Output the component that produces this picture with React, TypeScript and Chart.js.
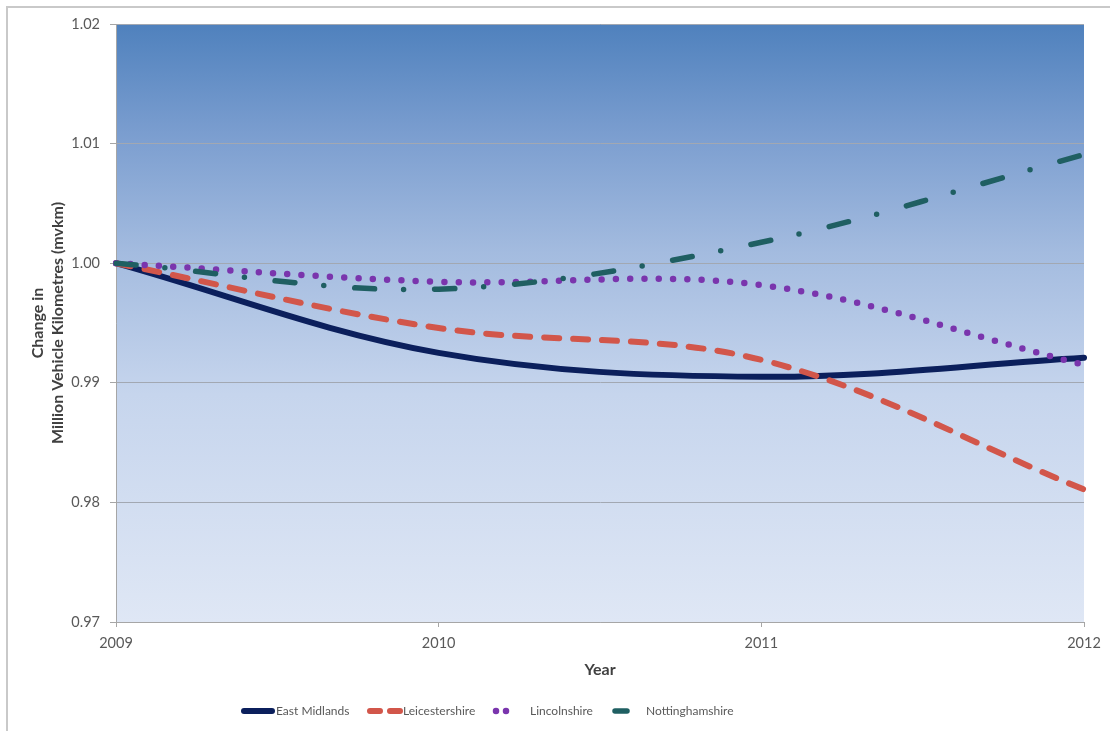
import React, { useEffect, useRef } from "react";
import { Chart, registerables } from "chart.js";

Chart.register(...registerables);

// Index of traffic volume relative to 2009
const years = ["2009", "2010", "2011", "2012"];
const eastMidlands = [1.0, 0.9925, 0.9905, 0.9921];
const leicestershire = [1.0, 0.99458, 0.99192, 0.98108];
const lincolnshire = [1.0, 0.99845, 0.99817, 0.9915];
const nottinghamshire = [1.0, 0.99783, 1.00175, 1.00908];
const seriesNames = ["East Midlands", "Leicestershire", "Lincolnshire", "Nottinghamshire"];

const yMin = 0.97;
const yMax = 1.02;
const yStep = 0.01;
const yTitle = ["Change in", "Million Vehicle Kilometres (mvkm)"];
const xTitle = "Year";

const colors = ["#0b1f5c", "#d2564a", "#7a35ad", "#1f5f62"];
const dashes: number[][] = [[], [15, 14], [0, 14.3], [20, 29, 0, 31]];
const widths = [6, 6, 6.5, 5.5];

const FONT = "Lato, 'Open Sans', sans-serif";

// Legend layout: symbol start/end and text start, all on one row
const legendRow = [
  { x0: 244, x1: 272, text: 276, dash: [] as number[] },
  { x0: 370, x1: 400, text: 403, dash: [10, 10] },
  { x0: 496, x1: 516, text: 530, dash: [0, 10] },
  { x0: 615, x1: 627, text: 646, dash: [] as number[] },
];
const legendY = 711;

const decor = {
  id: "decor",
  beforeDraw(chart: any) {
    const { ctx, chartArea: a } = chart;
    ctx.save();
    // outer frame (left and top edges)
    ctx.fillStyle = "#c9c9c9";
    ctx.fillRect(6, 6, 2, chart.height);
    ctx.fillRect(6, 6, chart.width, 2);
    // plot background gradient
    const g = ctx.createLinearGradient(0, a.top, 0, a.bottom);
    g.addColorStop(0, "rgb(79,129,189)");
    g.addColorStop(0.18, "rgb(122,157,207)");
    g.addColorStop(0.38, "rgb(163,187,223)");
    g.addColorStop(0.62, "rgb(198,213,237)");
    g.addColorStop(1, "rgb(223,231,245)");
    ctx.fillStyle = g;
    ctx.fillRect(a.left, a.top, a.right - a.left, a.bottom - a.top);
    ctx.restore();
  },
  afterDraw(chart: any) {
    const { ctx } = chart;
    ctx.save();
    legendRow.forEach((item, i) => {
      ctx.beginPath();
      ctx.strokeStyle = colors[i];
      ctx.lineWidth = widths[i];
      ctx.lineCap = "round";
      ctx.setLineDash(item.dash);
      ctx.moveTo(item.x0, legendY);
      ctx.lineTo(item.x1, legendY);
      ctx.stroke();
      ctx.setLineDash([]);
      ctx.fillStyle = "#595959";
      ctx.font = `12px ${FONT}`;
      ctx.textBaseline = "middle";
      ctx.textAlign = "left";
      ctx.fillText(seriesNames[i], item.text, legendY);
    });
    ctx.restore();
  },
};

export default function App() {
  const ref = useRef<HTMLCanvasElement | null>(null);

  useEffect(() => {
    if (!ref.current) return;
    const series = [eastMidlands, leicestershire, lincolnshire, nottinghamshire];
    const chart = new Chart(ref.current, {
      type: "line",
      data: {
        labels: years,
        datasets: series.map((values, i) => ({
          label: seriesNames[i],
          data: values,
          borderColor: colors[i],
          backgroundColor: colors[i],
          borderWidth: widths[i],
          borderDash: dashes[i],
          borderCapStyle: "round" as const,
          borderJoinStyle: "round" as const,
          tension: 0.35,
          pointRadius: 0,
          fill: false,
          order: series.length - i,
        })),
      },
      options: {
        responsive: false,
        animation: false,
        layout: { padding: { left: 0, top: 24, right: 26, bottom: 49 } },
        plugins: {
          legend: { display: false },
          tooltip: { enabled: false },
        },
        scales: {
          x: {
            type: "category",
            offset: false,
            afterFit: (s: any) => {
              s.height = 60;
            },
            grid: {
              drawOnChartArea: false,
              drawTicks: true,
              tickLength: 5,
              color: "#a6a6a6",
            },
            border: { display: true, color: "#a6a6a6" },
            ticks: {
              padding: 8,
              color: "#595959",
              font: { family: FONT, size: 14.5 },
              maxRotation: 0,
            },
            title: {
              display: true,
              text: xTitle,
              color: "#404040",
              font: { family: FONT, size: 16, weight: "bold" },
              padding: { top: 0, bottom: 3 },
            },
          },
          y: {
            min: yMin,
            max: yMax,
            afterFit: (s: any) => {
              s.width = 116;
            },
            grid: {
              color: "#a2a8b2",
              tickColor: "#a6a6a6",
              tickLength: 6,
              drawTicks: true,
            },
            border: { display: true, color: "#a6a6a6" },
            ticks: {
              stepSize: yStep,
              padding: 10,
              color: "#595959",
              font: { family: FONT, size: 14.5 },
              callback: (v: any) => Number(v).toFixed(2),
            },
            title: {
              display: true,
              text: yTitle,
              color: "#404040",
              font: { family: FONT, size: 16, weight: "bold", lineHeight: 1.25 },
              padding: { top: 28, bottom: 0 },
            },
          },
        },
      },
      plugins: [decor],
    });
    return () => chart.destroy();
  }, []);

  return (
    <div style={{ position: "absolute", left: 0, top: 0, width: 1110, height: 731, background: "#ffffff" }}>
      <canvas ref={ref} width={1110} height={731} style={{ display: "block" }} />
    </div>
  );
}
